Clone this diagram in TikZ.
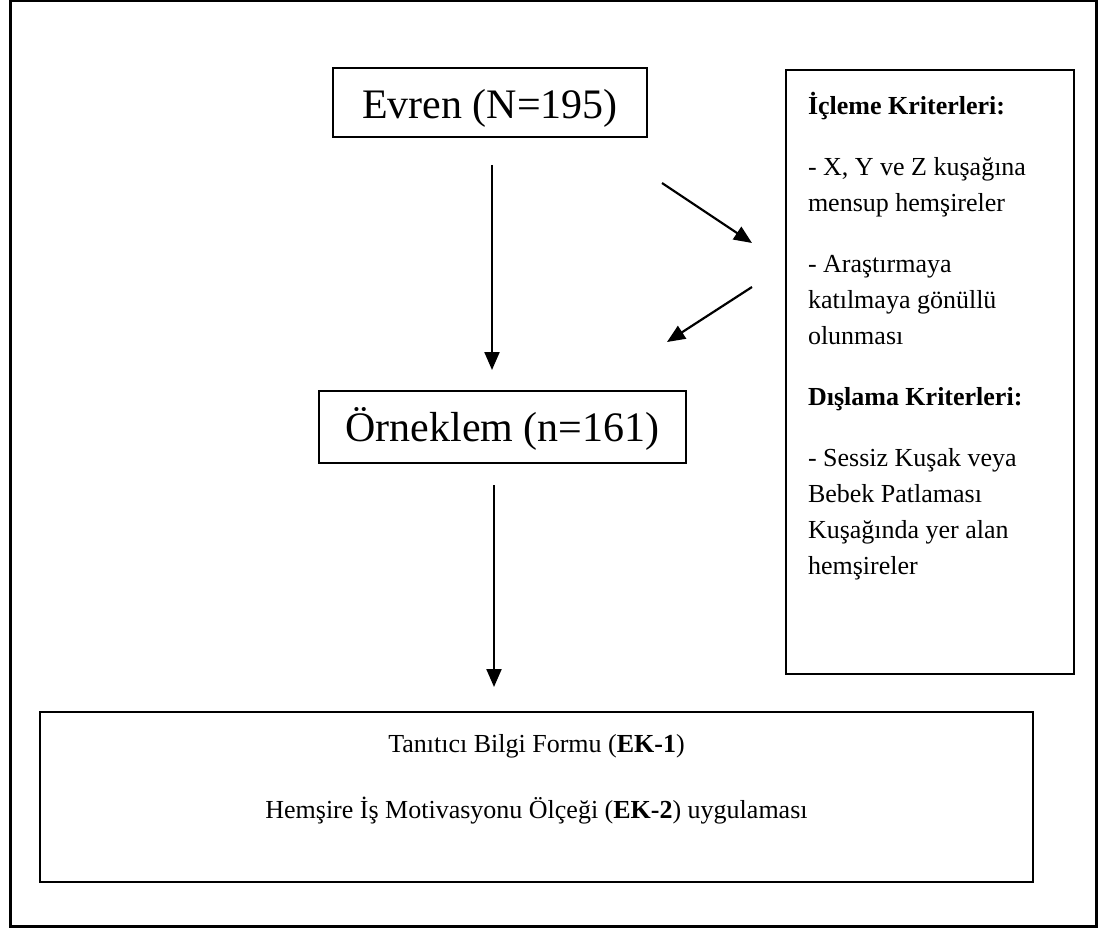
\documentclass[tikz,border=0pt]{standalone}
\usepackage{fontspec}
\setmainfont{Liberation Serif}
\usetikzlibrary{arrows.meta}
\begin{document}
\begin{tikzpicture}[x=1pt,y=-1pt,
  box/.style={draw,line width=1.6pt,inner sep=0pt},
  arr/.style={line width=2.2pt,-{Triangle[length=18pt,width=15pt]}}]
\useasboundingbox (0,0) rectangle (1101,928);
\node[draw,line width=2.5pt,inner sep=0pt,minimum width=1086pt,minimum height=925.5pt] (frame) at (553.25,463.75) {};
\node[box,minimum width=314pt,text height=51pt,text depth=18pt,font=\fontsize{42}{50}\selectfont] (ev) at (490,102.5) {Evren (N=195)};
\node[box,minimum width=367pt,text height=50pt,text depth=22pt,font=\fontsize{42}{50}\selectfont] (or) at (502.5,427) {Örneklem (n=161)};
\node[box,minimum width=288pt,text height=45pt,text depth=559pt] (crit) at (930,372)
  {\hspace*{22pt}\parbox[t]{266pt}{\raggedright\fontsize{26}{36}\selectfont
  \textbf{İçleme Kriterleri:}\\[25pt]
  - X, Y ve Z kuşağına\\
  mensup hemşireler\\[25pt]
  - Araştırmaya\\
  katılmaya gönüllü\\
  olunması\\[25pt]
  \textbf{Dışlama Kriterleri:}\\[25pt]
  - Sessiz Kuşak veya\\
  Bebek Patlaması\\
  Kuşağında yer alan\\
  hemşireler}};
\node[box,minimum width=993pt,text height=40pt,text depth=130pt] (form) at (536.5,797)
  {\parbox[t]{993pt}{\centering\fontsize{26}{66}\selectfont
  Tanıtıcı Bilgi Formu (\textbf{EK-1})\\
  Hemşire İş Motivasyonu Ölçeği (\textbf{EK-2}) uygulaması}};
\coordinate (a1s) at (492,165);
\coordinate (a1e) at (492,370);
\coordinate (a2s) at (494,485);
\coordinate (a2e) at (494,687);
\coordinate (d1s) at (662,183);
\coordinate (d1e) at (752,243);
\coordinate (d2s) at (752,287);
\coordinate (d2e) at (667,342);
\draw[arr] (a1s) -- (a1e);
\draw[arr] (a2s) -- (a2e);
\draw[arr] (d1s) -- (d1e);
\draw[arr] (d2s) -- (d2e);
\end{tikzpicture}
\end{document}
